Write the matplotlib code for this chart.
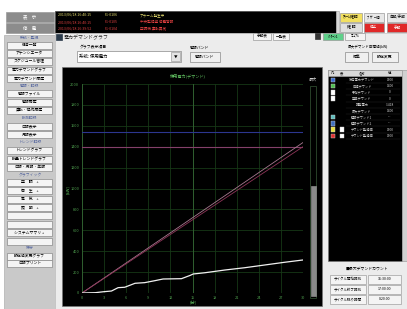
import matplotlib
matplotlib.use('Agg')
import matplotlib.pyplot as plt
from matplotlib.patches import Rectangle
plt.rcParams['font.family'] = ['Noto Sans CJK JP', 'DejaVu Sans']

# 使用電力（白線）
used_min = [0, 1.8, 2.9, 4.0, 4.9, 5.8, 7.2, 8.5, 9.9, 11.0, 13.5, 14.7, 15.1, 16.7, 19.4, 22.1, 24.8, 27.5, 30.0]
used_kw = [0, 3, 12, 19, 51, 55, 93, 99, 118, 134, 137, 169, 182, 194, 220, 242, 268, 294, 316]
# 目標ライン / 予測ライン
line_min = [0, 30]
target_kw = [0, 1400]
forecast_kw = [0, 1440]
# 水平ライン
alarm_kw = 1540
limit_kw = 1400
x_ticks = [0, 3, 6, 9, 12, 15, 18, 21, 24, 27, 30]
y_ticks = [0, 200, 400, 600, 800, 1000, 1200, 1400, 1600, 1800, 2000]

menu_items = [('系統・監視', 'h'), ('信号一覧', 'b'), ('アナンシエータ', 'b'), ('スケジュール管理', 'b'),
              ('電力デマンドグラフ', 'b'), ('電力デマンド履歴', 'b'), ('警報・記録', 'h'), ('警報ファイル', 'b'),
              ('警報履歴', 'b'), ('運転・操作履歴', 'b'), ('計測記録', 'h'), ('日報表示', 'b'),
              ('月報表示', 'b'), ('トレンド記録', 'h'), ('トレンドグラフ', 'b'), ('計量トレンドグラフ', 'b'),
              ('日報・月報・年報', 'b'), ('グラフィック', 'h'), ('空　調　+', 'b'), ('衛　生　+', 'b'),
              ('電　気　+', 'b'), ('照　明　+', 'b'), ('', 'b'), ('', 'b'), ('システムサマリ +', 'b'),
              ('', 'b'), ('保守', 'h'), ('設定値変更グラフ', 'b'), ('日報プリント', 'b')]
menu_y = [38, 45, 53, 61, 70, 78, 86, 93, 102, 110, 118, 126, 134, 142, 150, 159, 167, 175, 182,
          190, 199, 207, 215, 224, 232, 241, 248, 256, 263]

table_colors = ['#3b6ccf', '#4fbf4f', '#ffffff', '#ffffff', None, None, '#5fbfbf', '#3f6fbf', '#e8e040', '#e03030']
table_names = ['使用電力デマンド', '目標デマンド', '予測デマンド', '基準デマンド', '調整電力',
               '最大デマンド', '警報デマンド1', '警報デマンド2', 'デマンド監視値', 'デマンド監視値']
table_vals = ['1500', '1400', '0', '0', '-1418', '1400', '---', '---', '1500', '1500']

status_lines = [('2013/06/18 16:40:15', 'F1-0106', 'アラーム発生中', '#e8e070'),
                ('2013/06/18 16:40:15', 'F1-0105', '中央監視盤 停電警報', '#e04040'),
                ('2013/06/18 16:39:52', 'F1-0104', '空調機 運転異常', '#e04040')]

fig = plt.figure(figsize=(4.07, 3.09), dpi=100)
fig.patch.set_facecolor('white')
ui = fig.add_axes([0, 0, 1, 1])
ui.set_xlim(0, 407)
ui.set_ylim(309, 0)
ui.axis('off')


def box(x, y, w, h, fc, ec='#9a9a9a', text='', tc='black', fs=3.0, lw=0.5, ha='center'):
    ui.add_patch(Rectangle((x, y), w, h, facecolor=fc, edgecolor=ec, linewidth=lw))
    if text:
        tx = x + w / 2 if ha == 'center' else x + 2
        ui.text(tx, y + h / 2, text, color=tc, fontsize=fs, ha=ha, va='center')


# 上部ボタン
box(6, 12, 48, 10, '#8c8c8c', text='表　示', tc='white', fs=3.2)
box(6, 23, 48, 10, '#8c8c8c', text='停　電', tc='white', fs=3.2)
# ステータスバー
box(55, 11, 281, 22, 'black', ec='#444444')
for i, (d, c, msg, col) in enumerate(status_lines):
    yy = 15 + i * 7
    ui.text(58, yy, d, color=col, fontsize=2.6, va='center')
    ui.text(105, yy, c, color=col, fontsize=2.6, va='center')
    ui.text(140, yy, msg, color=col, fontsize=2.6, va='center')
box(336, 11, 3, 22, '#d8d8d8', ec='#b0b0b0')
box(340, 13, 22, 9, '#f2e060', text='ｱﾗｰﾑ確認', fs=2.8)
box(340, 23, 22, 9, '#e0e0e0', text='確 認', fs=2.8)
box(364, 13, 20, 9, '#e8e8e8', text='ﾌﾞｻﾞｰ停', fs=2.8)
box(364, 23, 20, 9, '#e02828', text='停止', tc='white', fs=2.6)
box(387, 13, 20, 9, '#e8e8e8', text='自動/手動', fs=2.6)
box(387, 23, 20, 9, '#e02828', text='手動', tc='white', fs=2.6)

# 左メニュー
box(4, 35, 51, 274, '#c9c9c9', ec='#b0b0b0')
for (label, kind), yy in zip(menu_items, menu_y):
    if kind == 'h':
        ui.text(30, yy, label, color='#5a6aa0', fontsize=2.8, ha='center', va='center')
    else:
        box(7, yy - 3.5, 45, 7, '#f4f4f4', ec='#8a8a8a', text=label, fs=2.8)

# メインウィンドウ
box(55, 33, 352, 276, '#ececec', ec='#c0c0c0')
box(56, 34, 6, 6, '#2b3b4b', ec='#2b3b4b')
ui.text(64, 37.5, '電力デマンドグラフ', fontsize=3.6, va='center', color='#222222')
box(253, 33, 18, 7, '#f4f4f4', text='手動表', fs=2.6)
box(273, 33, 16, 7, '#f4f4f4', text='一覧表', fs=2.6)
box(315, 33, 5, 6, '#333333', ec='#333333')
box(323, 33, 20, 7, '#5fd08a', text='ﾊﾟﾀｰﾝ1', fs=2.6)
box(345, 33, 20, 7, '#f4f4f4', text='ﾏﾆｭｱﾙ', fs=2.6)

ui.text(80, 47.5, 'グラフ表示項目', fontsize=2.8, va='center')
box(77, 51, 104, 11, 'white', ec='#8a8a8a', text='系統: 使用電力', fs=3.2, ha='left')
box(171, 52, 9, 9, '#e4e4e4', ec='#a0a0a0', text='▼', fs=2.6)
ui.text(190, 47.5, '警報バンド', fontsize=2.8, va='center')
box(190, 52, 30, 10, '#f0f0f0', ec='#8a8a8a', text='警報バンド', fs=2.8)

ui.text(348, 47, '最大デマンド目標値(kW)', fontsize=2.6, va='center')
box(345, 52, 23, 10, '#f0f0f0', ec='#8a8a8a', text='編集', fs=2.8)
box(372, 52, 26, 10, '#f0f0f0', ec='#8a8a8a', text='設定変更', fs=2.8)

# グラフパネル
box(62, 67, 260, 239, 'black', ec='#777777')
ui.text(188, 76, '使用電力(デマンド)', color='#5fbf5f', fontsize=3.0, ha='center', va='center')
ui.text(68, 190, '[kW]', color='#5fbf5f', fontsize=3.0, ha='center', va='center', rotation=90)
ui.text(193, 303.5, '[分]', color='#5fbf5f', fontsize=3.0, ha='center', va='center')
ui.text(313, 80, '最大', color='#cfcfcf', fontsize=3.0, ha='center', va='center')
box(310, 86, 6, 212, 'black', ec='#2e4a2e', lw=0.6)
box(310.5, 186, 5, 110, '#8a8a8a', ec='#8a8a8a')

# 右テーブル
box(328, 70, 74, 191, 'black', ec='#777777')
box(402, 70, 5, 191, '#d0d0d0', ec='#a0a0a0')
box(328, 70, 74, 6, '#d8d8d8', ec='#a0a0a0')
for xx, lab in zip([333, 342, 362, 390], ['凡', '表', '名称', '値']):
    ui.text(xx, 73, lab, fontsize=2.4, ha='center', va='center')
for i, (c, n, v) in enumerate(zip(table_colors, table_names, table_vals)):
    yy = 80 + i * 6.2
    if c is not None:
        ui.add_patch(Rectangle((331, yy - 2.2), 4.4, 4.4, facecolor=c, edgecolor='#cccccc', linewidth=0.3))
    if i >= 8:
        ui.add_patch(Rectangle((340, yy - 2.2), 4.4, 4.4, facecolor='white', edgecolor='#cccccc', linewidth=0.3))
    ui.text(362, yy, n, color='#cfcfcf', fontsize=2.3, ha='center', va='center')
    ui.text(390, yy, v, color='#cfcfcf', fontsize=2.3, ha='center', va='center')
    ui.plot([346, 400], [yy + 3, yy + 3], color='#2a2a2a', linewidth=0.3)

ui.text(367, 268, '■最大デマンドカウント', fontsize=2.8, ha='center', va='center')
for i, (lab, val) in enumerate(zip(['サイクル開始時刻', 'サイクル終了時刻', 'サイクル残り時間'],
                                   ['16:30:00', '17:00:00', '0:20:00'])):
    yy = 275 + i * 10
    box(330, yy, 36, 9, '#f4f4f4', ec='#a0a0a0', text=lab, fs=2.5)
    box(368, yy, 33, 9, '#f4f4f4', ec='#a0a0a0', text=val, fs=2.6)

# グラフ本体
ax = fig.add_axes([82 / 407, 1 - 293 / 309, 221 / 407, 209 / 309])
ax.set_facecolor('black')
ax.set_xlim(0, 30)
ax.set_ylim(0, 2000)
ax.set_xticks(x_ticks)
ax.set_yticks(y_ticks)
ax.tick_params(colors='#4fa04f', labelsize=2.8, length=0, pad=2)
for s in ax.spines.values():
    s.set_visible(False)
ax.grid(True, color='#163816', linewidth=0.6)
ax.axvline(15, color='#2f5f2f', linewidth=0.7)
ax.axvline(0, color='#2f5f2f', linewidth=0.7)
ax.axhline(alarm_kw, color='#2c3690', linewidth=0.8)
ax.axhline(limit_kw, color='#84406a', linewidth=0.8)
ax.plot(line_min, forecast_kw, color='#a87890', linewidth=0.6)
ax.plot(line_min, target_kw, color='#8e3458', linewidth=0.6)
ax.plot(used_min, used_kw, color='#f0f0f0', linewidth=0.9)

fig.savefig('out.png', dpi=100, facecolor='white')
